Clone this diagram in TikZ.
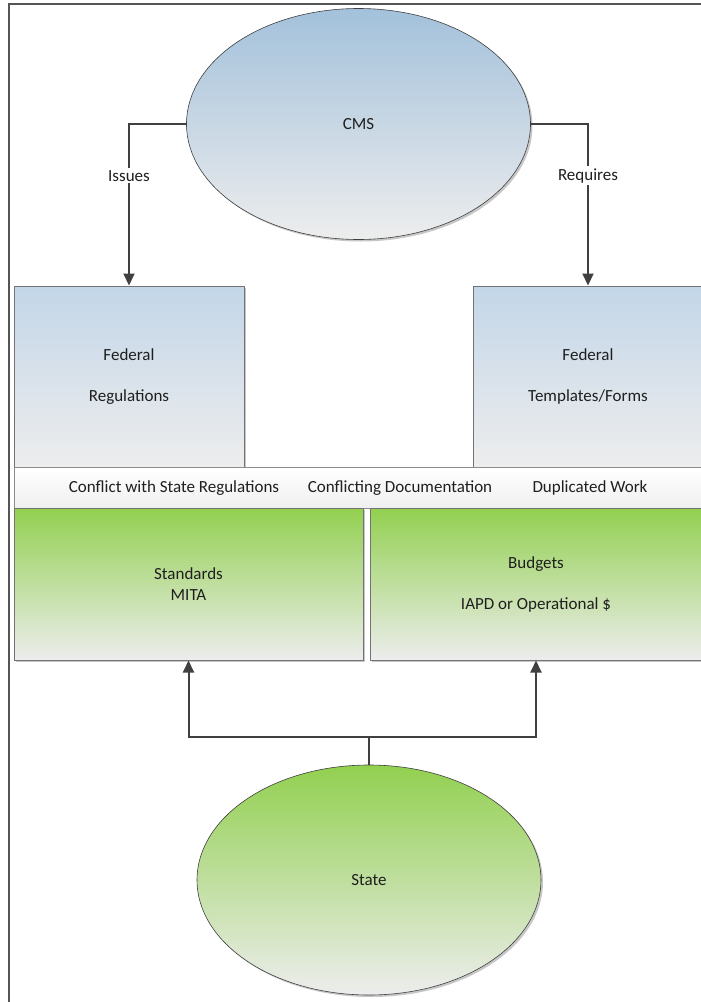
\documentclass[tikz,border=0pt]{standalone}
\usepackage{fontspec}
\setmainfont{Carlito}
\usetikzlibrary{arrows.meta,shapes.geometric,shadows}
\definecolor{blueTop}{HTML}{A3C1DB}
\definecolor{blueBoxTop}{HTML}{C3D6E8}
\definecolor{greenTop}{HTML}{92D050}
\definecolor{grayBot}{HTML}{EDEDED}
\definecolor{lineCol}{HTML}{404040}
\definecolor{frameCol}{HTML}{555555}
\begin{document}
\begin{tikzpicture}[x=1pt,y=-1pt,
  every node/.style={font=\fontsize{17}{21}\selectfont, text=black!88},
  shad/.style={drop shadow={shadow xshift=2pt, shadow yshift=-2pt, fill=black!22, opacity=1}},
  ellbase/.style={ellipse, draw=black!75, line width=0.6pt, minimum width=344pt, minimum height=231pt, inner sep=0pt, shad},
  blueell/.style={ellbase, top color=blueTop, bottom color=grayBot},
  greenell/.style={ellbase, top color=greenTop, bottom color=grayBot},
  boxbase/.style={rectangle, draw=black!55, line width=1pt, inner sep=0pt, align=center, shad},
  bluebox/.style={boxbase, top color=blueBoxTop, bottom color=grayBot},
  greenbox/.style={boxbase, top color=greenTop, bottom color=grayBot},
  band/.style={rectangle, draw=black!45, line width=1pt, inner sep=0pt, top color=white, bottom color=black!6},
  conn/.style={draw=lineCol, line width=2pt},
  arr/.style={conn, -{Triangle[width=11pt,length=12pt]}},
  lbl/.style={fill=white, inner sep=2pt}
]
\useasboundingbox (0,0) rectangle (701,1002);
\fill[white] (0,0) rectangle (701,1002);
% frame
\draw[frameCol, line width=2pt] (9,1010) -- (9,4) -- (710,4);

% top nodes
\node[blueell] (cms) at (358.5,124) {CMS};
\node[bluebox, minimum width=230pt, minimum height=181pt] (fedreg) at (129,376.5) {Federal\\[20pt]Regulations};
\node[bluebox, minimum width=230pt, minimum height=181pt] (fedtpl) at (588,376.5) {Federal\\[20pt]Templates/Forms};

% band
\node[band, minimum width=689pt, minimum height=41pt] (band) at (358.5,487.5) {};
\node (c1) at (174,488) {Conflict with State Regulations};
\node (c2) at (400,488) {Conflicting Documentation};
\node (c3) at (590,488) {Duplicated Work};

% green boxes
\node[greenbox, minimum width=349pt, minimum height=152pt] (std) at (188.5,584) {Standards\\MITA};
\node[greenbox, minimum width=332pt, minimum height=152pt] (bud) at (536,584) {Budgets\\[20pt]IAPD or Operational \$};

% state
\node[greenell, minimum height=230pt] (state) at (369,880) {State};

% connectors
\draw[arr] (cms.west) -| node[lbl, pos=0.66] (liss) {Issues} (fedreg.north);
\draw[arr] (cms.east) -| node[lbl, pos=0.66] (lreq) {Requires} (fedtpl.north);
\coordinate (split) at (369,737);
\draw[conn] (state.north) -- (split);
\draw[arr] (split) -| (std.south);
\draw[arr] (split) -| (bud.south);
\end{tikzpicture}
\end{document}
